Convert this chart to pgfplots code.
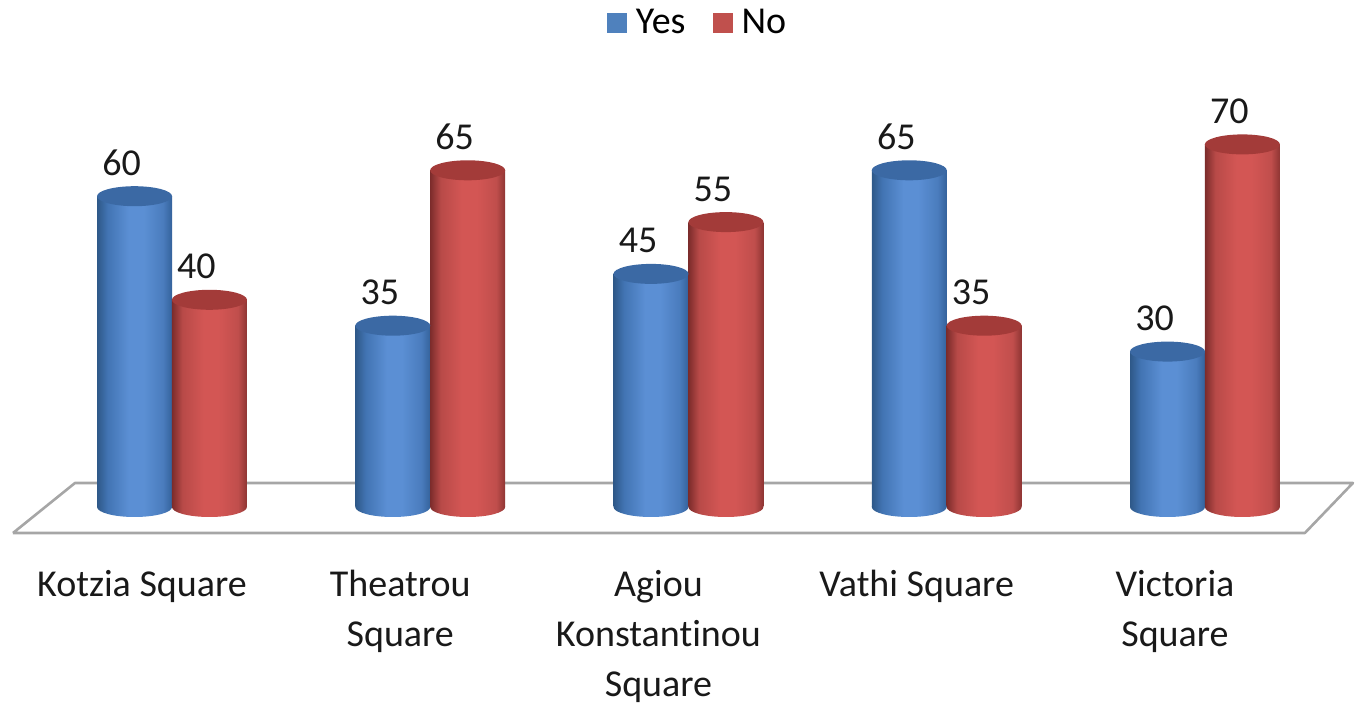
\documentclass[border=0pt]{standalone}
\usepackage{fontspec}
\setmainfont{Carlito}[Ligatures=NoCommon]
\usepackage{pgfplots}
\pgfplotsset{compat=1.18}

\definecolor{bd}{HTML}{2E5888}
\definecolor{b1}{HTML}{4274B3}
\definecolor{bl}{HTML}{5B8FD4}
\definecolor{b2}{HTML}{4A7CBD}
\definecolor{bd2}{HTML}{34629B}
\definecolor{btop}{HTML}{3B69A4}
\definecolor{rd}{HTML}{7C2C2B}
\definecolor{r1}{HTML}{B84A48}
\definecolor{rl}{HTML}{D35654}
\definecolor{r2}{HTML}{C04E4C}
\definecolor{rd2}{HTML}{8E3533}
\definecolor{rtop}{HTML}{A33B39}
\definecolor{legblue}{HTML}{4F81BD}
\definecolor{legred}{HTML}{C0504D}
\definecolor{floorc}{HTML}{A6A6A6}

\pgfdeclarehorizontalshading{cylblue}{100bp}{color(0bp)=(bd); color(25bp)=(bd); color(32bp)=(b1); color(46bp)=(bl); color(56bp)=(bl); color(69bp)=(b2); color(75bp)=(bd2); color(100bp)=(bd2)}
\pgfdeclarehorizontalshading{cylred}{100bp}{color(0bp)=(rd); color(25bp)=(rd); color(32bp)=(r1); color(46bp)=(rl); color(56bp)=(rl); color(69bp)=(r2); color(75bp)=(rd2); color(100bp)=(rd2)}

\pgfdeclareplotmark{cyltopb}{\pgfpathellipse{\pgfpointorigin}{\pgfqpoint{18.75pt}{0pt}}{\pgfqpoint{0pt}{5pt}}\pgfsetfillcolor{btop}\pgfusepath{fill}}
\pgfdeclareplotmark{cyltopr}{\pgfpathellipse{\pgfpointorigin}{\pgfqpoint{18.75pt}{0pt}}{\pgfqpoint{0pt}{5pt}}\pgfsetfillcolor{rtop}\pgfusepath{fill}}
\pgfdeclareplotmark{cylbotb}{\pgfpathellipse{\pgfpointorigin}{\pgfqpoint{18.75pt}{0pt}}{\pgfqpoint{0pt}{5pt}}\pgfshadepath{cylblue}{0}\pgfusepath{discard}}
\pgfdeclareplotmark{cylbotr}{\pgfpathellipse{\pgfpointorigin}{\pgfqpoint{18.75pt}{0pt}}{\pgfqpoint{0pt}{5pt}}\pgfshadepath{cylred}{0}\pgfusepath{discard}}

\newcommand\lf{\fontsize{19pt}{25pt}\selectfont}

\pgfplotsset{
  cyl/.style={ybar, bar shift=0pt, bar width=37.5pt, draw=none, shading=#1, forget plot},
  vlab/.style={nodes near coords, every node near coord/.append style={font=\lf, text=black!90, anchor=center, xshift=-6.5pt, yshift=16.5pt}},
}

\begin{document}
\begin{tikzpicture}
\useasboundingbox (0,0) rectangle (678pt,352pt);
\begin{axis}[
  at={(4.65pt,82.96pt)}, anchor=south west,
  scale only axis, width=675.3pt, height=235.69pt,
  xmin=-0.63, xmax=4.6, ymin=-6, ymax=85,
  clip=false,
  axis line style={draw=none}, tick style={draw=none},
  ytick=\empty,
  xtick={0,1,2,3,4},
  xticklabels={{Kotzia Square},{Theatrou\\Square},{Agiou\\Konstantinou\\Square},{Vathi Square},{Victoria\\Square}},
  xticklabel style={align=center, font=\lf, text=black!90, anchor=north, xshift=-15pt, yshift=-12.5pt},
  /pgf/number format/assume math mode=true,
  legend style={draw=none, fill=none, font=\lf, legend columns=2, at={(0.5103,1)}, anchor=center, yshift=22pt,
    /tikz/every even column/.append style={column sep=11.5pt}},
  legend image code/.code={\fill[#1] (0pt,-5pt) rectangle (10pt,5pt); \path (12.5pt,0pt);},
]
\addlegendimage{fill=legblue, draw=none}
\addlegendentry{Yes}
\addlegendimage{fill=legred, draw=none}
\addlegendentry{No}

% floor
\addplot[draw=floorc, line width=1.3pt, fill=white, line join=round, forget plot]
  coordinates {(-0.6157,-5.02) (-0.3756,4.633) (4.573,4.633) (4.387,-5.02) (-0.6157,-5.02)};

% Yes
\addplot[only marks, mark=cylbotb, forget plot] coordinates {(-0.145,0) (0.855,0) (1.855,0) (2.855,0) (3.855,0)};
\addplot[cyl=cylblue] coordinates {(-0.145,60)};
\addplot[cyl=cylblue] coordinates {(0.855,35)};
\addplot[cyl=cylblue] coordinates {(1.855,45)};
\addplot[cyl=cylblue] coordinates {(2.855,65)};
\addplot[cyl=cylblue] coordinates {(3.855,30)};
\addplot[only marks, mark=cyltopb, forget plot, vlab]
  coordinates {(-0.145,60) (0.855,35) (1.855,45) (2.855,65) (3.855,30)};

% No
\addplot[only marks, mark=cylbotr, forget plot] coordinates {(0.145,0) (1.145,0) (2.145,0) (3.145,0) (4.145,0)};
\addplot[cyl=cylred] coordinates {(0.145,40)};
\addplot[cyl=cylred] coordinates {(1.145,65)};
\addplot[cyl=cylred] coordinates {(2.145,55)};
\addplot[cyl=cylred] coordinates {(3.145,35)};
\addplot[cyl=cylred] coordinates {(4.145,70)};
\addplot[only marks, mark=cyltopr, forget plot, vlab]
  coordinates {(0.145,40) (1.145,65) (2.145,55) (3.145,35) (4.145,70)};
\end{axis}
\end{tikzpicture}
\end{document}
